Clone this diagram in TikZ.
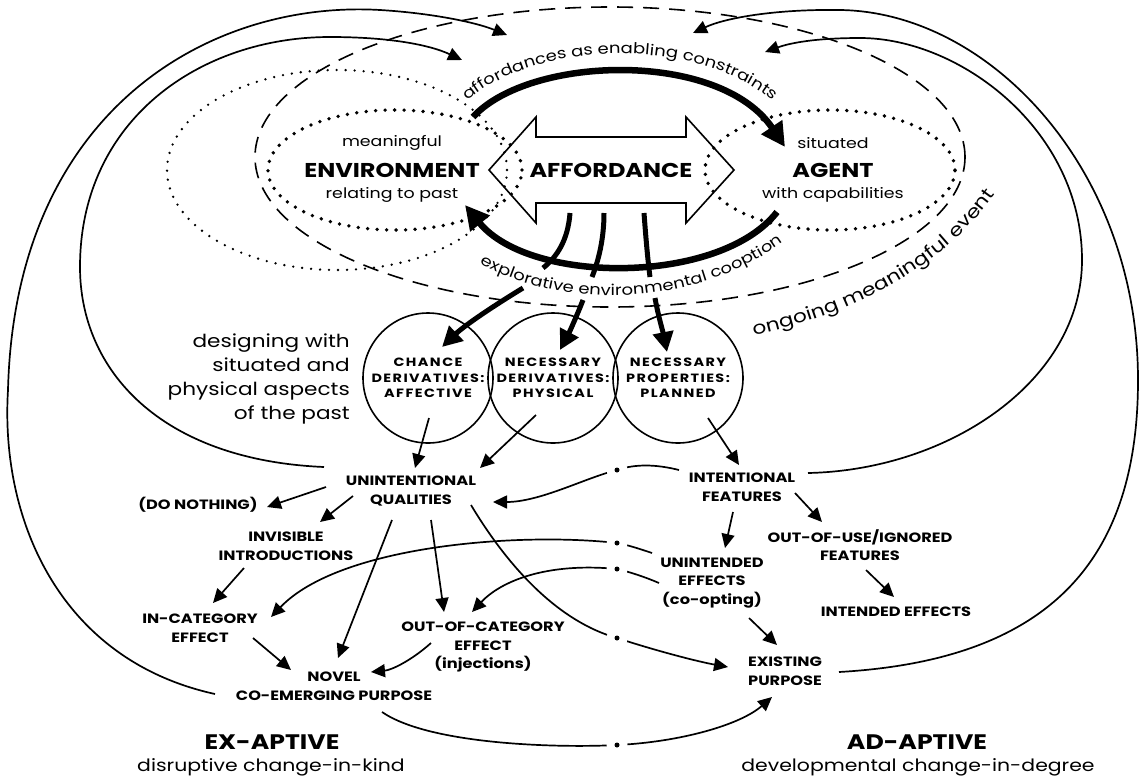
\documentclass[tikz,border=0pt]{standalone}
\usepackage{fontspec}
\setmainfont{Poppins}[FakeStretch=1.2]
\usetikzlibrary{arrows.meta, decorations.text, calc, positioning}
\tikzset{
    every node/.style={align=center, inner sep=2pt},
    big/.style={font=\fontsize{20}{22}\selectfont\bfseries},      % ENVIRONMENT, AGENT ...
    sub/.style={font=\fontsize{14.5}{16}\selectfont},
    lbl/.style={font=\fontsize{13.5}{18.5}\selectfont\bfseries},  % outcome labels
    note/.style={font=\fontsize{18}{24}\selectfont, align=right},
    mode/.style={font=\fontsize{21}{24}\selectfont\bfseries},
    modesub/.style={font=\fontsize{17}{20}\selectfont},
    derivs/.style={
        circle, draw, line width=1.6pt, minimum size=130pt, inner sep=0pt,
        font=\fontsize{12}{15.5}\selectfont\bfseries\addfontfeature{LetterSpace=12}
    },
    conn/.style={line width=1.7pt, -{Triangle[length=14pt,width=13pt]}},
    heavy/.style={line width=6.5pt, -{Triangle[length=24pt,width=24pt]}},
    forkline/.style={line width=5pt},
    fork/.style={forkline, -{Triangle[length=20pt,width=20pt]}},
    evtdash/.style={line width=1.6pt, dash pattern=on 16pt off 10pt},
    dots/.style={line width=3.8pt, line cap=round, dash pattern=on 0pt off 9.5pt},
    finedots/.style={line width=2.6pt, line cap=round, dash pattern=on 0pt off 9pt},
    gapmark/.style={circle, fill=white, minimum size=21pt, inner sep=0pt},
    brk/.style={circle, fill=black, minimum size=5pt, inner sep=0pt}
}
\begin{document}
\begin{tikzpicture}[x=1pt, y=-1pt]
\useasboundingbox (0,0) rectangle (1141,780);

% the meaningful event and its two poles
\draw[evtdash] (610,157) ellipse [x radius=355pt, y radius=150pt];
\draw[finedots] (337,170) ellipse [x radius=170pt, y radius=100pt];
\draw[dots] (395,170) ellipse [x radius=127pt, y radius=60pt];
\draw[dots] (830,170) ellipse [x radius=125pt, y radius=60pt];

\node[big] (env) at (392,170) {ENVIRONMENT};
\node[sub] (envt) at (392,143) {meaningful};
\node[sub] (envb) at (392,195) {relating to past};
\node[big] (agt) at (833,170) {AGENT};
\node[sub] (agtt) at (833,143) {situated};
\node[sub] (agtb) at (833,195) {with capabilities};
\node[big] (aff) at (611,170) {AFFORDANCE};
\draw[line width=1.6pt] (aff.center) ++(-122,0) -- ++(47,-53) -- ++(0,20) -- ++(150,0)
    -- ++(0,-20) -- ++(48,53) -- ++(-48,53) -- ++(0,-20) -- ++(-150,0) -- ++(0,20) -- cycle;

% enabling constraints / cooption
\coordinate (eu) at (473,117);
\coordinate (au) at (785,147);
\coordinate (ad) at (777,212);
\coordinate (ed) at (465,205);
\draw[heavy] (eu) .. controls (530,55) and (720,50) .. (au);
\draw[heavy] (ad) .. controls (720,285) and (530,285) .. (ed);
\path[decorate, decoration={text along path, text align=center,
    text={|\fontsize{15}{15}\selectfont|affordances as enabling constraints}}]
    (445,125) .. controls (510,30) and (730,30) .. (795,125);
\path[decorate, decoration={text along path, text align=center,
    text={|\fontsize{15}{15}\selectfont|explorative environmental cooption}}]
    (456,248) .. controls (540,312) and (700,318) .. (805,225);
\path[decorate, decoration={text along path, text align=center,
    text={|\fontsize{18}{18}\selectfont|ongoing meaningful event}}]
    (715,342) .. controls (850,322) and (965,262) .. (1015,160);

% derivatives
\node[derivs] (c1) at (428,378) {CHANCE\\DERIVATIVES:\\AFFECTIVE};
\node[derivs] (c2) at (553,378) {NECESSARY\\DERIVATIVES:\\PHYSICAL};
\node[derivs] (c3) at (678,378) {NECESSARY\\PROPERTIES:\\PLANNED};
\node[note, anchor=east] (design) at (352,379) {designing with\\situated and\\physical aspects\\of the past};

\draw[forkline] ($(aff)+(-41,43)$) .. controls (568,240) and (557,257) .. (543,268);
\draw[fork] (523,288) .. controls (495,305) and (465,325) .. ($(c1)+(14,-31)$);
\draw[forkline] ($(aff)+(-7,43)$) .. controls (604,240) and (598,262) .. (592,277);
\draw[fork] (583,300) .. controls (576,318) and (568,335) .. ($(c2)+(7,-28)$);
\draw[forkline] ($(aff)+(33,43)$) .. controls (646,240) and (648,262) .. (650,277);
\draw[fork] (655,298) .. controls (658,315) and (663,332) .. ($(c3)+(-11,-26)$);

% outcomes
\node[lbl] (unq) at (411,491) {UNINTENTIONAL\\QUALITIES};
\node[lbl] (intf) at (742,487) {INTENTIONAL\\FEATURES};
\node[lbl] (dono) at (198,505) {(DO NOTHING)};
\node[lbl] (invis) at (286,546) {INVISIBLE\\INTRODUCTIONS};
\node[lbl] (incat) at (200,628) {IN-CATEGORY\\EFFECT};
\node[lbl] (outcat) at (483,647) {OUT-OF-CATEGORY\\EFFECT\\(injections)};
\node[lbl] (novel) at (334,686) {NOVEL\\CO-EMERGING PURPOSE};
\node[lbl] (unint) at (712,583) {UNINTENDED\\EFFECTS\\(co-opting)};
\node[lbl] (oouse) at (860,545) {OUT-OF-USE/IGNORED\\FEATURES};
\node[lbl] (intd) at (896,612) {INTENDED EFFECTS};
\node[lbl] (exist) at (785,671) {EXISTING\\PURPOSE};

\node[mode] (exap) at (272,742) {EX-APTIVE};
\node[modesub] (exapt) at (271,767) {disruptive change-in-kind};
\node[mode] (adap) at (917,742) {AD-APTIVE};
\node[modesub] (adapt) at (918,767) {developmental change-in-degree};

\draw[conn] ($(c1)+(1,40)$) -- ($(unq)+(4,-23)$);
\draw[conn] ($(c2)+(-17,37)$) -- ($(unq)+(69,-23)$);
\draw[conn] ($(c3)+(30,40)$) -- ($(intf)+(-3,-22)$);
\draw[conn] ($(unq)+(-85,-4)$) -- ($(dono)+(69,2)$);
\draw[conn] ($(unq)+(-58,5)$) -- ($(invis)+(34,-24)$);
\draw[conn] ($(invis)+(-42,22)$) -- ($(incat)+(13,-25)$);
\draw[conn] ($(incat)+(53,10)$) -- ($(novel)+(-43,-16)$);
\draw[conn] ($(unq)+(-19,29)$) -- ($(novel)+(4,-28)$);
\draw[conn] ($(unq)+(20,29)$) -- ($(outcat)+(-39,-35)$);
\draw[conn] ($(outcat)+(-52,-4)$) .. controls (412,660) and (392,670) .. ($(novel)+(37,-14)$);
\draw[conn] ($(intf)+(-9,25)$) -- ($(unint)+(13,-35)$);
\draw[conn] ($(intf)+(53,6)$) -- ($(oouse)+(-38,-23)$);
\draw[conn] ($(oouse)+(6,25)$) -- ($(intd)+(-2,-15)$);
\draw[conn] ($(unint)+(37,35)$) -- ($(exist)+(-8,-26)$);

% crossings between ex-aptive and ad-aptive
\coordinate (k1) at (617,470);
\coordinate (k2) at (617,543);
\coordinate (k3) at (617,569);
\coordinate (k4) at (617,638);
\coordinate (k5) at (617,745);
\draw[conn] ($(intf)+(-63,-17)$) .. controls (655,464) and (635,464) .. (k1)
    .. controls (585,478) and (540,502) .. ($(unq)+(82,11)$);
\draw[conn] ($(unint)+(-60,-30)$) .. controls (640,549) and (628,545) .. (k2)
    .. controls (520,532) and (340,545) .. ($(incat)+(71,-11)$);
\draw[conn] ($(unint)+(-53,0)$) .. controls (645,577) and (630,572) .. (k3)
    .. controls (545,562) and (500,582) .. ($(outcat)+(-11,-35)$);
\draw[conn] ($(unq)+(60,14)$) .. controls (510,570) and (560,622) .. (k4)
    .. controls (660,652) and (700,662) .. ($(exist)+(-57,-4)$);
\draw[conn] ($(novel)+(48,26)$) .. controls (430,745) and (560,748) .. (k5)
    .. controls (680,742) and (740,725) .. ($(exist)+(-13,26)$);
\foreach \i in {1,...,5} {
    \node[gapmark] at (k\i) {};
    \node[brk] at (k\i) {};
}

% feedback loops back into the event
\coordinate (t1) at (507,35);
\coordinate (t2) at (462,60);
\coordinate (t3) at (693,33);
\coordinate (t4) at (765,52);
\draw[conn] ($(novel)+(-119,8)$) .. controls (60,660) and (0,520) .. (8,390)
    .. controls (15,110) and (210,0) .. (380,10) .. controls (430,13) and (475,22) .. (t1);
\draw[conn] ($(unq)+(-87,-24)$) .. controls (160,460) and (80,370) .. (80,267)
    .. controls (80,120) and (200,37) .. (330,37) .. controls (390,37) and (430,45) .. (t2);
\draw[conn] ($(exist)+(54,1)$) .. controls (1050,660) and (1138,560) .. (1138,380)
    .. controls (1138,170) and (990,12) .. (840,10) .. controls (775,9) and (725,18) .. (t3);
\draw[conn] ($(intf)+(66,-14)$) .. controls (950,470) and (1082,380) .. (1082,260)
    .. controls (1082,130) and (960,38) .. (860,38) .. controls (815,38) and (790,43) .. (t4);
\end{tikzpicture}
\end{document}
